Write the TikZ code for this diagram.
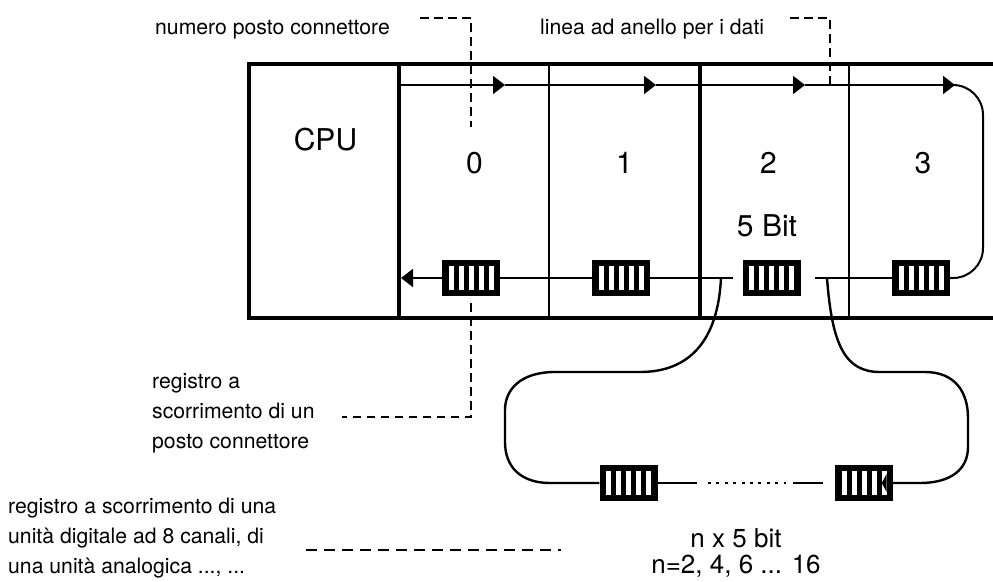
\documentclass[tikz,border=0pt]{standalone}
\usepackage{fontspec}
\setmainfont{TeX Gyre Heros}
\usetikzlibrary{arrows.meta}
\begin{document}
\begin{tikzpicture}[x=1pt,y=-1pt,
  frame/.style={line width=4.8pt},
  thickdiv/.style={line width=4.5pt},
  thindiv/.style={line width=2.2pt},
  ring/.style={line width=2pt},
  loopline/.style={line width=2.4pt},
  lead/.style={line width=2.4pt, dash pattern=on 8.5pt off 5.5pt},
  longlead/.style={line width=2.4pt, dash pattern=on 11pt off 7pt},
  tip/.style={-{Triangle[length=12pt,width=18pt]}},
  reg/.style={rectangle, fill=black, minimum width=58pt, minimum height=36pt, inner sep=0pt,
    path picture={
      \foreach \i in {0,...,4}
        \fill[white] ([xshift={6.5pt+\i*10pt}, yshift=6pt]path picture bounding box.south west) rectangle ++(5pt,24pt);
    }},
  lbl/.style={font=\fontsize{21.2}{30}\selectfont, inner sep=0pt, align=left},
  mid/.style={font=\fontsize{26}{26}\selectfont, inner sep=0pt, align=center},
  big/.style={font=\fontsize{30}{36}\selectfont, inner sep=0pt}
]
\useasboundingbox (0,0) rectangle (993,581);

% outer frame and slot dividers
\draw[frame] (993,64) -| (249,318) -- (993,318);
\draw[thickdiv] (399,64) -- (399,318);
\draw[thickdiv] (700,64) -- (700,318);
\draw[thindiv] (549,64) -- (549,318);
\draw[thindiv] (849,64) -- (849,318);

% texts in the rack
\node[big, anchor=base] (cpu) at (325.5,150) {CPU};
\node[big, anchor=base] (s0) at (474.5,173) {0};
\node[big, anchor=base] (s1) at (624.5,173) {1};
\node[big, anchor=base] (s2) at (768.5,173) {2};
\node[big, anchor=base] (s3) at (923,173) {3};
\node[big, anchor=base] (bit5) at (767,236) {5 Bit};

% registers
\node[reg] (r0) at (471,278) {};
\node[reg] (r1) at (621,278) {};
\node[reg] (r2) at (771.5,278) {};
\node[reg] (r3) at (921,278) {};
\node[reg] (l1) at (628.5,483) {};
\node[reg] (l2) at (864,483) {};
\fill[black] ([xshift=-6.5pt,yshift=-9pt]l2.north east) -- ([xshift=-6.5pt,yshift=9pt]l2.south east) -- ([xshift=-11.5pt]l2.east) -- cycle;

% ring line, top
\coordinate (d0) at (399,85);
\coordinate (a0) at (505,85);
\coordinate (a1) at (656,85);
\coordinate (a2) at (805,85);
\coordinate (a3) at (955,85);
\draw[ring,tip] (d0) -- (a0);
\draw[ring,tip] (a0) -- (a1);
\draw[ring,tip] (a1) -- (a2);
\draw[ring,tip] (a2) -- (a3);
\draw[ring, rounded corners=30pt] (a3) -- (983,85) -- (983,278) -- (r3.east);

% ring line, bottom
\coordinate (gr) at (815,278);
\coordinate (gl) at (733,278);
\coordinate (cpuin) at (401,278);
\draw[ring] (r3.west) -- (gr);
\draw[ring] (gl) -- (r1.east);
\draw[ring] (r1.west) -- (r0.east);
\draw[ring,tip] (r0.west) -- (cpuin);

% lower loop
\coordinate (bl) at (721,278);
\coordinate (br) at (827,278);
\draw[loopline] (bl) .. controls (718,340) and (690,372) .. (640,372) -- (555,372)
  .. controls (520,372) and (505,390) .. (505,410) -- (505,442)
  .. controls (505,468) and (522,483) .. (550,483) -- (l1.west);
\draw[loopline] (br) .. controls (832,345) and (845,372) .. (880,372) -- (925,372)
  .. controls (955,372) and (968,392) .. (968,418) -- (968,447)
  .. controls (968,470) and (950,483) .. (920,483) -- (l2.east);
\coordinate (m1) at (697,483);
\coordinate (m2) at (793,483);
\coordinate (m3) at (823,483);
\draw[loopline] (l1.east) -- (m1);
\draw[line width=2.8pt, dash pattern=on 3pt off 5.4pt] (708,483) -- (786,483);
\draw[loopline] (m2) -- (m3);

% labels and leaders
\node[lbl, anchor=base west] (t1) at (155,34) {numero posto connettore};
\node[lbl, anchor=base west] (t2) at (540,34) {linea ad anello per i dati};
\node[lbl, anchor=base west] (t3) at (152,448) {registro a\\scorrimento di un\\posto connettore};
\node[lbl, anchor=base west] (t4) at (8,573) {registro a scorrimento di una\\unità digitale ad 8 canali, di\\una unità analogica ..., ...};
\node[mid, anchor=base] (t5) at (736,573) {n x 5 bit\\n=2, 4, 6 ... 16};

\draw[lead] (420,18) -- (471,18) -- (471,127);
\draw[lead] (790,18) -- (830,18) -- (830,88);
\draw[lead] (471,303) -- (471,417) -- (342,417);
\draw[longlead] (306,550) -- (561,550);
\end{tikzpicture}
\end{document}
